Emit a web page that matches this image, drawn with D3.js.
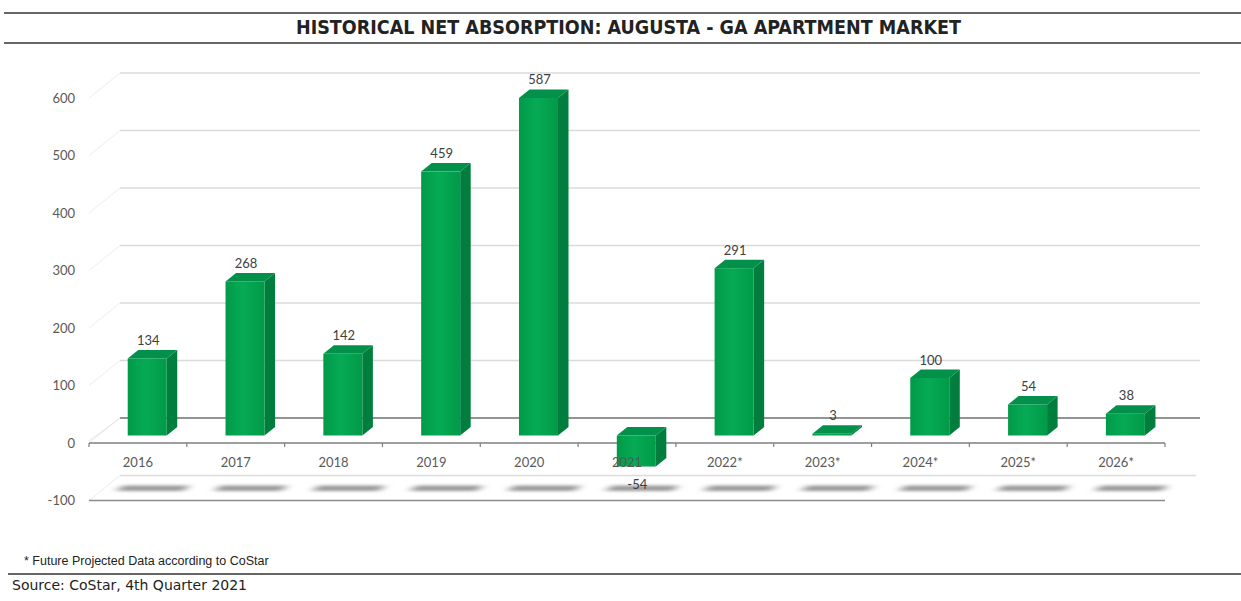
<!DOCTYPE html>
<meta charset="utf-8">
<style>
body { margin: 0; background: #fff; }
svg { display: block; }
.ylab { font: 13px Lato, "Open Sans", sans-serif; fill: #595959; }
.xlab { font: 13px Lato, "Open Sans", sans-serif; fill: #595959; }
.vlab { font: 13px Lato, "Open Sans", sans-serif; fill: #404040; }
</style>
<svg width="1241" height="601"></svg>
<script src="https://d3js.org/d3.v7.min.js"></script>
<script>
var categories = ["2016", "2017", "2018", "2019", "2020", "2021", "2022*", "2023*", "2024*", "2025*", "2026*"];
var values = [134, 268, 142, 459, 587, -54, 291, 3, 100, 54, 38];
var yTicks = [-100, 0, 100, 200, 300, 400, 500, 600];

var svg = d3.select("svg");

// depth offsets of the fake 3d box
var depthX = 31, depthY = -25,
    d0 = 0.3, d1 = 0.64;
function px(x, d) { return x + depthX * d; }
function py(y, d) { return y + depthY * d; }

var x = d3.scaleBand().domain(categories).range([89, 1165]);
var y = d3.scaleLinear().domain([-100, 600]).range([500.5, 98]);

var defs = svg.append("defs");
var grad = defs.append("linearGradient").attr("id", "front");
grad.append("stop").attr("offset", "0%").attr("stop-color", "#019a49");
grad.append("stop").attr("offset", "45%").attr("stop-color", "#06aa55");
grad.append("stop").attr("offset", "100%").attr("stop-color", "#019a48");
defs.append("filter").attr("id", "blur").attr("x", "-50%").attr("y", "-200%")
    .attr("width", "200%").attr("height", "500%")
  .append("feGaussianBlur").attr("stdDeviation", "5 1.6");

// title block
svg.append("line").attr("x1", 4).attr("x2", 1241).attr("y1", 13).attr("y2", 13)
    .attr("stroke", "#333").attr("stroke-width", 1.6);
svg.append("line").attr("x1", 4).attr("x2", 1241).attr("y1", 43).attr("y2", 43)
    .attr("stroke", "#333").attr("stroke-width", 1.6);
svg.append("text")
    .attr("x", 296).attr("y", 34)
    .attr("textLength", 665).attr("lengthAdjust", "spacingAndGlyphs")
    .style("font", "bold 19px 'DejaVu Sans Condensed', 'DejaVu Sans', sans-serif")
    .attr("fill", "#222")
    .text("HISTORICAL NET ABSORPTION: AUGUSTA - GA APARTMENT MARKET");

var x0 = x.range()[0], x1 = x.range()[1];

// back wall gridlines + left wall diagonals
yTicks.forEach(function(t) {
  if (t === -100) return;
  svg.append("line")
      .attr("x1", px(x0, 0)).attr("y1", y(t))
      .attr("x2", px(x0, 1)).attr("y2", py(y(t), 1))
      .attr("stroke", "#ececec");
  svg.append("line")
      .attr("x1", px(x0, 1)).attr("y1", py(y(t), 1))
      .attr("x2", px(x1, 1) + 4).attr("y2", py(y(t), 1))
      .attr("stroke", t === 0 ? "#6f6f6f" : "#dadada")
      .attr("stroke-width", t === 0 ? 1.3 : 1.4);
});

// floor at -100
svg.append("line")
    .attr("x1", px(x0, 0)).attr("y1", y(-100))
    .attr("x2", px(x0, 1)).attr("y2", py(y(-100), 1))
    .attr("stroke", "#ececec");
svg.append("line")
    .attr("x1", px(x0, 1)).attr("y1", py(y(-100), 1))
    .attr("x2", px(x1, 1)).attr("y2", py(y(-100), 1))
    .attr("stroke", "#dcdcdc").attr("stroke-width", 1.4);

var bw = 39;
function left(c) { return x(c) + (x.bandwidth() - bw) / 2; }

// bar shadows on the floor
svg.append("g").selectAll("path")
  .data(categories)
  .enter().append("path")
    .attr("filter", "url(#blur)")
    .attr("fill", "#9a9a9a")
    .attr("d", function(c) {
      var xl = left(c) - 14, xr = left(c) + bw + 14, yy = y(-100);
      return "M" + px(xl, 0.38) + "," + py(yy, 0.38) +
             "L" + px(xr, 0.38) + "," + py(yy, 0.38) +
             "L" + px(xr, 0.6) + "," + py(yy, 0.6) +
             "L" + px(xl, 0.6) + "," + py(yy, 0.6) + "Z";
    });

// front axis lines
svg.append("line").attr("x1", x0).attr("x2", x1).attr("y1", y(0)).attr("y2", y(0))
    .attr("stroke", "#7f7f7f").attr("stroke-width", 1.3);
svg.append("line").attr("x1", x0).attr("x2", x1).attr("y1", y(-100)).attr("y2", y(-100))
    .attr("stroke", "#8c8c8c").attr("stroke-width", 1.3);
svg.append("line")
    .attr("x1", px(x0, 0)).attr("y1", y(0) - 2)
    .attr("x2", px(x0, 1)).attr("y2", py(y(0), 1))
    .attr("stroke", "#e4e4e4");
svg.append("g").selectAll("line")
  .data(categories.concat(["end"]))
  .enter().append("line")
    .attr("x1", function(c, i) { return x0 + i * x.step(); })
    .attr("x2", function(c, i) { return x0 + i * x.step(); })
    .attr("y1", y(0)).attr("y2", y(0) + 4)
    .attr("stroke", "#7f7f7f").attr("stroke-width", 1.2);

// bars
var data = categories.map(function(c, i) { return {cat: c, value: values[i]}; });
var bar = svg.append("g").selectAll("g")
  .data(data)
  .enter().append("g");

function pts(list) {
  return list.map(function(p) { return px(p[0], p[2]) + "," + py(p[1], p[2]); }).join(" ");
}

bar.append("polygon")
    .attr("fill", "#017e3d")
    .attr("points", function(d) {
      var xr = left(d.cat) + bw, yt = y(Math.max(d.value, 0)), yb = y(Math.min(d.value, 0));
      return pts([[xr, yt, d0], [xr, yt, d1], [xr, yb, d1], [xr, yb, d0]]);
    });
bar.append("polygon")
    .attr("fill", "#02904a")
    .attr("points", function(d) {
      var xl = left(d.cat), xr = xl + bw, yt = y(Math.max(d.value, 0));
      return pts([[xl, yt, d0], [xr, yt, d0], [xr, yt, d1], [xl, yt, d1]]);
    });
bar.append("rect")
    .attr("fill", "url(#front)")
    .attr("x", function(d) { return px(left(d.cat), d0); })
    .attr("y", function(d) { return py(y(Math.max(d.value, 0)), d0); })
    .attr("width", bw)
    .attr("height", function(d) { return Math.abs(y(0) - y(d.value)); });

// category labels
svg.append("g").selectAll("text")
  .data(categories)
  .enter().append("text")
    .attr("class", "xlab")
    .attr("x", function(c) { return x(c) + x.bandwidth() / 2; })
    .attr("y", 467)
    .attr("text-anchor", "middle")
    .text(function(c) { return c; });

// value labels
svg.append("g").selectAll("text")
  .data(data)
  .enter().append("text")
    .attr("class", "vlab")
    .attr("text-anchor", "middle")
    .attr("x", function(d) { return px(left(d.cat) + bw / 2, d0) + 1; })
    .attr("y", function(d) {
      return d.value >= 0 ? py(y(d.value), d1) - 5 : py(y(d.value), d0) + 22;
    })
    .text(function(d) { return d.value; });

// y axis labels
svg.append("g").selectAll("text")
  .data(yTicks)
  .enter().append("text")
    .attr("class", "ylab")
    .attr("x", 75)
    .attr("y", function(t) { return y(t); })
    .attr("dy", "0.35em")
    .attr("text-anchor", "end")
    .text(function(t) { return t; });

// footer
svg.append("text")
    .attr("x", 24).attr("y", 565)
    .style("font", "12.5px 'Liberation Sans', Arial, sans-serif")
    .attr("fill", "#222")
    .text("* Future Projected Data according to CoStar");
svg.append("line").attr("x1", 8).attr("x2", 1241).attr("y1", 574).attr("y2", 574)
    .attr("stroke", "#333").attr("stroke-width", 1.4);
svg.append("text")
    .attr("x", 12).attr("y", 590)
    .attr("textLength", 235).attr("lengthAdjust", "spacingAndGlyphs")
    .style("font", "14px 'DejaVu Sans', sans-serif")
    .attr("fill", "#222")
    .text("Source: CoStar, 4th Quarter 2021");
</script>
